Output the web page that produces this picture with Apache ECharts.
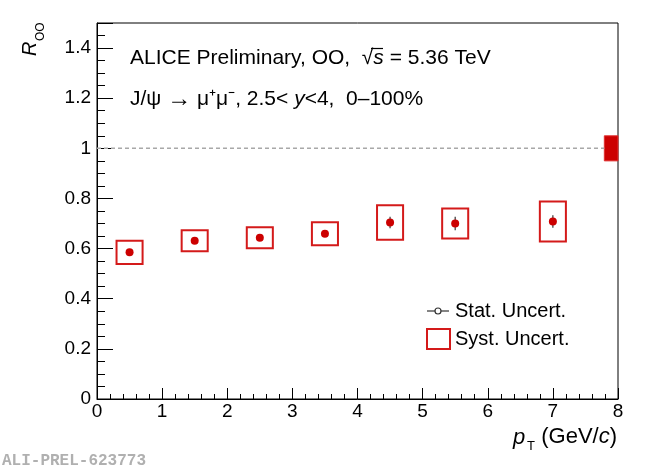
<!DOCTYPE html>
<html>
<head>
<meta charset="utf-8">
<script src="https://cdn.jsdelivr.net/npm/echarts@6/dist/echarts.min.js"></script>
<style>
  html, body { margin: 0; padding: 0; background: #fff; }
  #chart { width: 650px; height: 469px; }
</style>
</head>
<body>
<div id="chart"></div>
<script>
// J/psi R_OO vs pT
var ptCenters = [0.5, 1.5, 2.5, 3.5, 4.5, 5.5, 7.0];
var boxHalfWidth = [0.2, 0.2, 0.2, 0.2, 0.2, 0.2, 0.2];
var rValues = [0.585, 0.631, 0.643, 0.659, 0.704, 0.700, 0.708];
var statErr = [0.012, 0.012, 0.012, 0.013, 0.023, 0.027, 0.025];
var systErr = [0.046, 0.042, 0.042, 0.046, 0.069, 0.060, 0.080];
// global normalisation uncertainty drawn at the right edge
var normPt = [8.0];
var normWidth = [0.21];
var normErr = [0.05];
var refLine = [[0, 1], [7.79, 1]];

var FONT = '"Liberation Sans", Arial, sans-serif';
var RED = '#cc0000';

var systData = ptCenters.map(function (x, i) { return [x, rValues[i], boxHalfWidth[i], systErr[i]]; });
var statData = ptCenters.map(function (x, i) { return [x, rValues[i], statErr[i]]; });
var pointData = ptCenters.map(function (x, i) { return [x, rValues[i]]; });
var normData = normPt.map(function (x, i) { return [x, 1, normWidth[i], normErr[i]]; });

var chart = echarts.init(document.getElementById('chart'), null, { renderer: 'canvas' });

var option = {
  animation: false,
  backgroundColor: '#fff',
  grid: {
    left: 97, right: 32, top: 23, bottom: 70,
    show: true, borderColor: '#000', borderWidth: 1, backgroundColor: 'transparent'
  },
  xAxis: {
    type: 'value', min: 0, max: 8, interval: 1,
    axisLine: { lineStyle: { color: '#000', width: 1 } },
    axisTick: { inside: true, length: 11, lineStyle: { color: '#000' } },
    minorTick: { show: true, splitNumber: 5, length: 5, lineStyle: { color: '#000' } },
    axisLabel: { color: '#000', fontSize: 19, fontFamily: FONT, margin: 3 },
    splitLine: { show: false }
  },
  yAxis: [{
    type: 'value', min: 0, max: 1.5, interval: 0.2, position: 'left',
    axisLine: { show: true, lineStyle: { color: '#000', width: 1 } },
    axisTick: { inside: true, length: 16, lineStyle: { color: '#000' } },
    axisLabel: {
      color: '#000', fontSize: 19, fontFamily: FONT, margin: 6,
      formatter: function (v) { return v > 1.45 ? '' : String(v); }
    },
    splitLine: { show: false }
  }, {
    // minor ticks every 0.05
    type: 'value', min: 0, max: 1.5, interval: 0.05, position: 'left', offset: 0,
    axisLine: { show: false },
    axisTick: { inside: true, length: 8, lineStyle: { color: '#000' } },
    axisLabel: { show: false },
    splitLine: { show: false }
  }],
  series: [
    {
      type: 'line', data: refLine, symbol: 'none', silent: true,
      lineStyle: { color: '#a8a8a8', width: 1.5, type: [4, 3] }
    },
    {
      type: 'custom', data: normData, silent: true,
      renderItem: function (params, api) {
        var p1 = api.coord([api.value(0) - api.value(2), api.value(1) + api.value(3)]);
        var p2 = api.coord([api.value(0), api.value(1) - api.value(3)]);
        return { type: 'rect', shape: { x: p1[0], y: p1[1], width: p2[0] - p1[0], height: p2[1] - p1[1] },
          style: { fill: RED, stroke: '#e03030', lineWidth: 1 } };
      }
    },
    {
      type: 'custom', data: systData, silent: true,
      renderItem: function (params, api) {
        var p1 = api.coord([api.value(0) - api.value(2), api.value(1) + api.value(3)]);
        var p2 = api.coord([api.value(0) + api.value(2), api.value(1) - api.value(3)]);
        return { type: 'rect', shape: { x: p1[0], y: p1[1], width: p2[0] - p1[0], height: p2[1] - p1[1] },
          style: { fill: 'none', stroke: '#d41a1a', lineWidth: 2 } };
      }
    },
    {
      type: 'custom', data: statData, silent: true,
      renderItem: function (params, api) {
        var top = api.coord([api.value(0), api.value(1) + api.value(2)]);
        var bot = api.coord([api.value(0), api.value(1) - api.value(2)]);
        return { type: 'line', shape: { x1: top[0], y1: top[1], x2: bot[0], y2: bot[1] },
          style: { stroke: '#333', lineWidth: 1.2 } };
      }
    },
    {
      type: 'scatter', data: pointData, symbol: 'circle', symbolSize: 8, silent: true,
      itemStyle: { color: RED, opacity: 1 }, z: 5
    }
  ],
  graphic: [
    // y title R_OO
    { type: 'group', x: 37, y: 56, rotation: Math.PI / 2, children: [
      { type: 'text', x: 0, y: -7, style: { text: 'R', font: 'italic 20px ' + FONT, fill: '#000', align: 'left', verticalAlign: 'middle' } },
      { type: 'text', x: 15, y: 4, style: { text: 'OO', font: '12px ' + FONT, fill: '#000', align: 'left', verticalAlign: 'middle' } }
    ] },
    // x title p_T (GeV/c)
    { type: 'text', x: 513, y: 438, style: { text: 'p', font: 'italic 22px ' + FONT, fill: '#000', align: 'left', verticalAlign: 'middle' } },
    { type: 'text', x: 527, y: 446, style: { text: 'T', font: '13px ' + FONT, fill: '#000', align: 'left', verticalAlign: 'middle' } },
    { type: 'text', x: 617, y: 437, style: {
      text: '(GeV/{i|c})', font: '22px ' + FONT, fill: '#000', align: 'right', verticalAlign: 'middle',
      rich: { i: { font: 'italic 22px ' + FONT, fill: '#000' } } } },
    // header text
    { type: 'text', x: 130, y: 58, style: {
      text: 'ALICE Preliminary, OO,  \u221A{i|s} = 5.36 TeV', font: '21px ' + FONT, fill: '#000', align: 'left', verticalAlign: 'middle',
      rich: { i: { font: 'italic 21px ' + FONT, fill: '#000' } } } },
    { type: 'line', shape: { x1: 371, y1: 48.5, x2: 383, y2: 48.5 }, style: { stroke: '#000', lineWidth: 1.2 } },
    { type: 'text', x: 130, y: 99, style: {
      text: 'J/\u03C8 {a|\u2192} \u03BC\u207A\u03BC\u207B, 2.5< {i|y}<4,  0\u2013100%', font: '21px ' + FONT, fill: '#000', align: 'left', verticalAlign: 'middle',
      rich: { i: { font: 'italic 21px ' + FONT, fill: '#000' }, a: { font: '24px ' + FONT, fill: '#000' } } } },
    // legend
    { type: 'line', shape: { x1: 427, y1: 311, x2: 449, y2: 311 }, style: { stroke: '#333', lineWidth: 1.2 } },
    { type: 'circle', shape: { cx: 438, cy: 311, r: 3 }, style: { fill: '#fff', stroke: '#333', lineWidth: 1.2 } },
    { type: 'text', x: 455, y: 311, style: { text: 'Stat. Uncert.', font: '20px ' + FONT, fill: '#000', align: 'left', verticalAlign: 'middle' } },
    { type: 'rect', shape: { x: 427, y: 329, width: 23, height: 20 }, style: { fill: 'none', stroke: '#d41a1a', lineWidth: 2 } },
    { type: 'text', x: 455, y: 339, style: { text: 'Syst. Uncert.', font: '20px ' + FONT, fill: '#000', align: 'left', verticalAlign: 'middle' } },
    // watermark
    { type: 'text', x: 2, y: 461, style: { text: 'ALI-PREL-623773', font: 'bold 16px "Liberation Mono", monospace', fill: '#b0b0b0', align: 'left', verticalAlign: 'middle' } }
  ]
};

chart.setOption(option);
</script>
</body>
</html>
